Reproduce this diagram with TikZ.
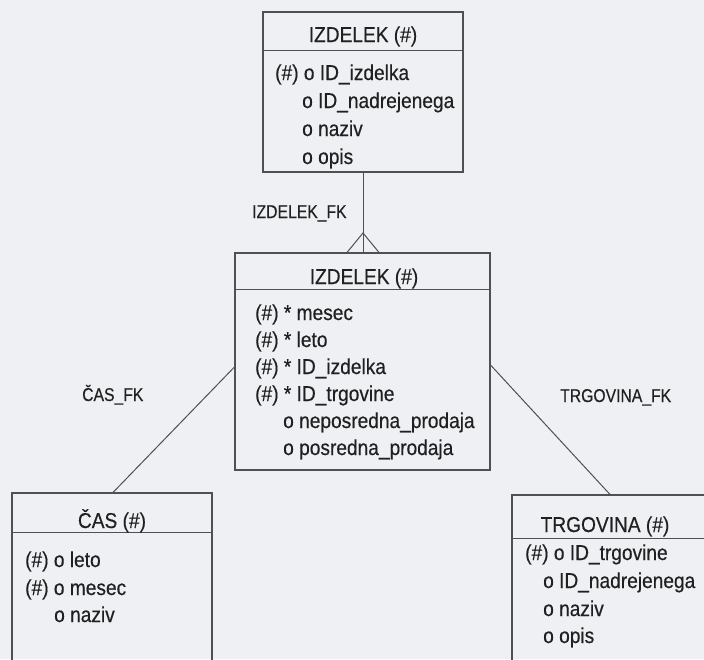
\documentclass[tikz,border=0pt]{standalone}
\usepackage{fontspec}
\setmainfont{Liberation Sans}[FakeStretch=0.89,FakeBold=0.4]
\newfontfamily\lblfont{Liberation Sans}[FakeStretch=0.85,FakeBold=0.3]
\definecolor{bgcol}{HTML}{EEF0F3}
\definecolor{linecol}{HTML}{505050}
\definecolor{txtcol}{HTML}{202020}
\tikzset{
  entity/.style={draw=linecol, line width=1.1pt, rectangle, inner sep=0pt},
  conn/.style={draw=linecol, line width=1pt},
  row/.style={anchor=base west, inner sep=0pt, text=txtcol, font=\fontsize{21.5}{24}\selectfont},
  head/.style={anchor=base, inner sep=0pt, text=txtcol, font=\fontsize{21.5}{24}\selectfont},
  fklabel/.style={anchor=base west, inner sep=0pt, text=txtcol, font=\lblfont\fontsize{18.5}{20}\selectfont}
}
\begin{document}
\begin{tikzpicture}[x=1pt,y=-1pt]
\useasboundingbox (0,0) rectangle (704,659);
\fill[bgcol] (0,0) rectangle (704,659);
\clip (0,0) rectangle (704,659);

% entity boxes
\node[entity, minimum width=200pt, minimum height=160pt] (izd) at (363,92) {};
\node[entity, minimum width=255pt, minimum height=217pt] (mid) at (362.5,361.5) {};
\node[entity, minimum width=200pt, minimum height=207pt] (cas) at (112,596.5) {};
\node[entity, minimum width=228pt, minimum height=205pt] (trg) at (626,597.5) {};

% header separators
\draw[conn] (izd.west |- 0,50) -- (izd.east |- 0,50);
\draw[conn] (mid.west |- 0,289) -- (mid.east |- 0,289);
\draw[conn] (cas.west |- 0,532) -- (cas.east |- 0,532);
\draw[conn] (trg.west |- 0,538) -- (trg.east |- 0,538);

% IZDELEK (top)
\node[head] (h1) at (363,42) {IZDELEK (\#)};
\node[row] (a1) at (275,80) {(\#) o ID\_izdelka};
\node[row] (a2) at (302,108) {o ID\_nadrejenega};
\node[row] (a3) at (302,136) {o naziv};
\node[row] (a4) at (302,164) {o opis};

% IZDELEK (middle, fact)
\node[head] (h2) at (364,284) {IZDELEK (\#)};
\node[row] (b1) at (255,320) {(\#) * mesec};
\node[row] (b2) at (255,347) {(\#) * leto};
\node[row] (b3) at (255,374) {(\#) * ID\_izdelka};
\node[row] (b4) at (255,401) {(\#) * ID\_trgovine};
\node[row] (b5) at (283,428) {o neposredna\_prodaja};
\node[row] (b6) at (283,455) {o posredna\_prodaja};

% CAS
\node[head] (h3) at (112,528) {ČAS (\#)};
\node[row] (c1) at (25,567) {(\#) o leto};
\node[row] (c2) at (25,595) {(\#) o mesec};
\node[row] (c3) at (54,622) {o naziv};

% TRGOVINA
\node[head] (h4) at (605,532) {TRGOVINA (\#)};
\node[row] (d1) at (525,560) {(\#) o ID\_trgovine};
\node[row] (d2) at (543,588) {o ID\_nadrejenega};
\node[row] (d3) at (543,616) {o naziv};
\node[row] (d4) at (543,643) {o opis};

% connectors
\coordinate (apex) at (363,233);
\draw[conn] (izd.south) -- (mid.north -| izd.south);
\draw[conn] (mid.north -| 347,0) -- (apex) -- (mid.north -| 379,0);
\draw[conn] (mid.west |- 0,367) -- (cas.north -| 113,0);
\draw[conn] (mid.east |- 0,365) -- (trg.north -| 610,0);

% relationship labels
\node[fklabel] (l1) at (252,218) {IZDELEK\_FK};
\node[fklabel] (l2) at (82,401) {ČAS\_FK};
\node[fklabel] (l3) at (560,402) {TRGOVINA\_FK};
\end{tikzpicture}
\end{document}
